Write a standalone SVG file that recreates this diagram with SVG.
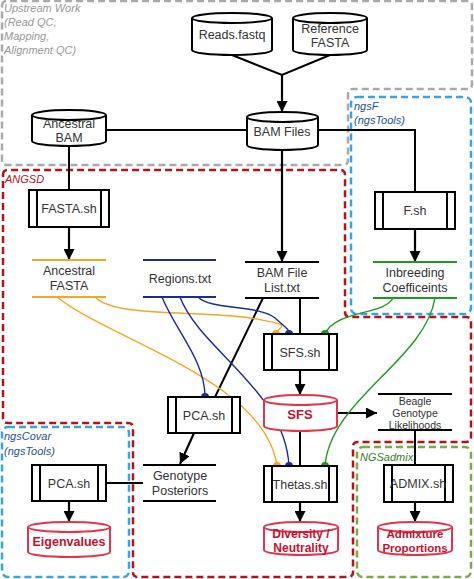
<svg xmlns="http://www.w3.org/2000/svg" width="474" height="579" viewBox="0 0 474 579">
<style>
text{font-family:"Liberation Sans",Arial,sans-serif;fill:#333;font-size:12.5px;text-anchor:middle}
.lbl{font-style:italic;font-size:11px;text-anchor:start}
.out{font-weight:bold;fill:#c41230;font-size:12.5px}
.box{fill:none;stroke-width:2.5;stroke-dasharray:7 4}
.cyl{fill:#fff;stroke:#000;stroke-width:2}
.rcyl{fill:#fff;stroke:#e5334a;stroke-width:2}
.proc{fill:#fff;stroke:#000;stroke-width:2}
.bl{stroke:#000;stroke-width:2;fill:none}
.arr{stroke:#000;stroke-width:2.2;fill:none;marker-end:url(#ah)}
.or{stroke:#f5a623;fill:none;stroke-width:1.4}
.nv{stroke:#1c2a9c;fill:none;stroke-width:1.4}
.gr{stroke:#1f9a1f;fill:none;stroke-width:1.4}
</style>
<defs>
<marker id="ah" viewBox="0 0 10 10" refX="10" refY="5" markerWidth="11" markerHeight="11" markerUnits="userSpaceOnUse" orient="auto"><path d="M0,0 L10,5 L0,10 z" fill="#000"/></marker>
</defs>
<g id="groups">
<path class="box" stroke="#aaaaaa" d="M2,6 Q2,1 7,1 L467,1 Q472,1 472,6 L472,84 Q472,89 467,89 L353,89 Q348,89 348,94 L348,160 Q348,165 343,165 L7,165 Q2,165 2,160 Z"/>
<text class="lbl" x="4" y="12" style="fill:#999">Upstream Work</text>
<text class="lbl" x="4" y="26" style="fill:#999">(Read QC,</text>
<text class="lbl" x="4" y="40" style="fill:#999">Mapping,</text>
<text class="lbl" x="4" y="54" style="fill:#999">Alignment QC)</text>
<rect class="box" stroke="#3aa3e8" x="351" y="97" width="120" height="217" rx="6"/>
<text class="lbl" x="354" y="110" style="fill:#1f4f8f">ngsF</text>
<text class="lbl" x="354" y="124" style="fill:#1f4f8f">(ngsTools)</text>
<path class="box" stroke="#b3141c" d="M3,175 Q3,170 8,170 L340,170 Q345,170 345,175 L345,312 Q345,317 350,317 L466,317 Q471,317 471,322 L471,437 Q471,442 466,442 L358,442 Q353,442 353,447 L353,572 Q353,577 348,577 L138,577 Q133,577 133,572 L133,428 Q133,423 128,423 L8,423 Q3,423 3,418 Z"/>
<text class="lbl" x="5" y="183" style="fill:#b3141c">ANGSD</text>
<rect class="box" stroke="#3aa3e8" x="2" y="427" width="127" height="150" rx="6"/>
<text class="lbl" x="4" y="440" style="fill:#1f4f8f">ngsCovar</text>
<text class="lbl" x="4" y="455" style="fill:#1f4f8f">(ngsTools)</text>
<rect class="box" stroke="#7aab4a" x="357" y="447" width="114" height="130" rx="6"/>
<text class="lbl" x="360" y="461" style="fill:#3d7a1e">NGSadmix</text>
</g>
<g id="connectors">
<path class="bl" d="M232,55 L282,75 L330,55"/>
<path class="arr" d="M282,74 L282,112"/>
<path class="bl" d="M106,130 L247,130 M318,130 L415,130 L415,192"/>
<path class="bl" d="M69,146 L69,190"/>
<path class="arr" d="M69,227 L69,260"/>
<path class="arr" d="M282,150 L282,262"/>
<path class="arr" d="M415,229 L415,262"/>
<path class="bl" d="M300,298 L300,334"/>
<path class="bl" d="M263,298 L215,397"/>
<path class="arr" d="M300,370 L300,395"/>
<path class="arr" d="M337,413 L377,413"/>
<path class="bl" d="M300,431 L300,466"/>
<path class="arr" d="M300,502 L300,522"/>
<path class="bl" d="M415,430 L415,465"/>
<path class="arr" d="M415,502 L415,522"/>
<path class="arr" d="M194,433 L180,464"/>
<path class="bl" d="M143,483 L106,483"/>
<path class="arr" d="M69,501 L69,522"/>
<path class="or" d="M57,297 C110,340 265,380 277,466"/>
<path class="or" d="M95,297 C115,318 200,310 250,318 S276,326 276,334"/>
<path class="nv" d="M162,297 C175,330 205,360 205,397"/>
<path class="nv" d="M180,297 C200,350 285,390 289,466"/>
<path class="nv" d="M198,297 C210,310 260,305 275,318 S289,330 289,334"/>
<path class="gr" d="M393,298 C385,315 335,310 325,334"/>
<path class="gr" d="M435,298 C425,360 330,400 325,466"/>
<path fill="#f5a623" d="M272,334 A4,4 0 0 1 280,334 Z M273,466 A4,4 0 0 1 281,466 Z"/>
<path fill="#1c2a9c" d="M285,334 A4,4 0 0 1 293,334 Z M285,466 A4,4 0 0 1 293,466 Z M201,397 A4,4 0 0 1 209,397 Z"/>
<path fill="#1f9a1f" d="M321,334 A4,4 0 0 1 329,334 Z M321,466 A4,4 0 0 1 329,466 Z"/>
</g>
<g id="reads">
<path class="cyl" d="M192,18 L192,50 A40,5 0 0 0 272,50 L272,18 A40,5 0 0 0 192,18 Z M192,18 A40,5 0 0 0 272,18"/>
<text x="232" y="39">Reads.fastq</text>
</g>
<g id="reference">
<path class="cyl" d="M293,18 L293,50 A37,5 0 0 0 367,50 L367,18 A37,5 0 0 0 293,18 Z M293,18 A37,5 0 0 0 367,18"/>
<text x="330" y="33">Reference</text>
<text x="330" y="47">FASTA</text>
</g>
<g id="bamfiles">
<path class="cyl" d="M247,117 L247,145 A35.5,5 0 0 0 318,145 L318,117 A35.5,5 0 0 0 247,117 Z M247,117 A35.5,5 0 0 0 318,117"/>
<text x="282" y="136">BAM Files</text>
</g>
<g id="ancestralbam">
<path class="cyl" d="M32,115 L32,141 A37,5 0 0 0 106,141 L106,115 A37,5 0 0 0 32,115 Z M32,115 A37,5 0 0 0 106,115"/>
<text x="69" y="128">Ancestral</text>
<text x="69" y="142">BAM</text>
</g>
<g id="fastash">
<rect class="proc" x="29" y="190" width="80" height="37"/>
<path class="bl" d="M37,190 V227 M101,190 V227"/>
<text x="69" y="213">FASTA.sh</text>
</g>
<g id="fsh">
<rect class="proc" x="375" y="192" width="80" height="37"/>
<path class="bl" d="M383,192 V229 M447,192 V229"/>
<text x="415" y="215">F.sh</text>
</g>
<g id="ancestralfasta">
<path stroke="#f5a623" stroke-width="1.8" d="M32,260 H106 M32,297 H106"/>
<text x="69" y="275">Ancestral</text>
<text x="69" y="290">FASTA</text>
</g>
<g id="regions">
<path stroke="#1c2a9c" stroke-width="1.8" d="M143,260 H216 M143,297 H216"/>
<text x="180" y="283">Regions.txt</text>
</g>
<g id="bamlist">
<path class="bl" d="M245,262 H319 M245,298 H319"/>
<text x="282" y="277">BAM File</text>
<text x="282" y="292">List.txt</text>
</g>
<g id="inbreeding">
<path stroke="#1f9a1f" stroke-width="1.8" d="M373,262 H457 M373,298 H457"/>
<text x="415" y="277">Inbreeding</text>
<text x="415" y="292">Coefficeints</text>
</g>
<g id="sfssh">
<rect class="proc" x="264" y="334" width="73" height="36"/>
<path class="bl" d="M272,334 V370 M329,334 V370"/>
<text x="300" y="357">SFS.sh</text>
</g>
<g id="sfs">
<path class="rcyl" d="M264,400 L264,426 A36.5,5 0 0 0 337,426 L337,400 A36.5,5 0 0 0 264,400 Z M264,400 A36.5,5 0 0 0 337,400"/>
<text class="out" x="300" y="419" style="font-size:13px">SFS</text>
</g>
<g id="beagle">
<path class="bl" d="M378,394 H452 M378,430 H452"/>
<text x="415" y="405" style="font-size:10.5px">Beagle</text>
<text x="415" y="417" style="font-size:10.5px">Genotype</text>
<text x="415" y="429" style="font-size:10.5px">Likelihoods</text>
</g>
<g id="pcash">
<rect class="proc" x="168" y="397" width="72" height="36"/>
<path class="bl" d="M176,397 V433 M232,397 V433"/>
<text x="204" y="420">PCA.sh</text>
</g>
<g id="posteriors">
<path class="bl" d="M143,465 H216 M143,501 H216"/>
<text x="180" y="480">Genotype</text>
<text x="180" y="495">Posteriors</text>
</g>
<g id="pcash2">
<rect class="proc" x="32" y="465" width="74" height="36"/>
<path class="bl" d="M40,465 V501 M98,465 V501"/>
<text x="69" y="488">PCA.sh</text>
</g>
<g id="thetassh">
<rect class="proc" x="264" y="466" width="73" height="36"/>
<path class="bl" d="M272,466 V502 M329,466 V502"/>
<text x="300" y="489">Thetas.sh</text>
</g>
<g id="admixsh">
<rect class="proc" x="384" y="465" width="69" height="37"/>
<path class="bl" d="M392,465 V502 M445,465 V502"/>
<text x="418" y="488">ADMIX.sh</text>
</g>
<g id="eigenvalues">
<path class="rcyl" d="M28,527 L28,552 A41,5 0 0 0 110,552 L110,527 A41,5 0 0 0 28,527 Z M28,527 A41,5 0 0 0 110,527"/>
<text class="out" x="69" y="546">Eigenvalues</text>
</g>
<g id="diversity">
<path class="rcyl" d="M264,527 L264,550 A37,5 0 0 0 338,550 L338,527 A37,5 0 0 0 264,527 Z M264,527 A37,5 0 0 0 338,527"/>
<text class="out" x="301" y="538" style="font-size:12px">Diversity /</text>
<text class="out" x="301" y="552" style="font-size:12px">Neutrality</text>
</g>
<g id="admixture">
<path class="rcyl" d="M378,527 L378,550 A37,5 0 0 0 452,550 L452,527 A37,5 0 0 0 378,527 Z M378,527 A37,5 0 0 0 452,527"/>
<text class="out" x="415" y="538" style="font-size:11.5px">Admixture</text>
<text class="out" x="415" y="552" style="font-size:11.5px">Proportions</text>
</g>
</svg>
